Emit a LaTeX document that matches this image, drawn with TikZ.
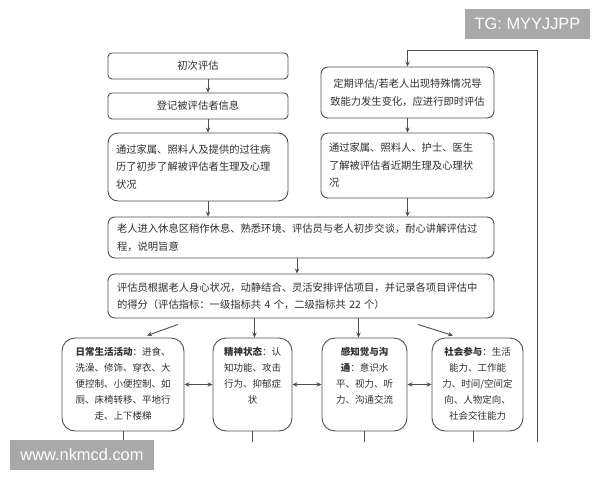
\documentclass[tikz,border=0pt]{standalone}
\usepackage{fontspec}
\setmainfont{Liberation Sans}
\newfontfamily\cjk{Noto Sans CJK SC}
\usetikzlibrary{arrows.meta}

\definecolor{linegray}{HTML}{4F4F4F}
\definecolor{textgray}{HTML}{2F2F2F}
\definecolor{markgray}{HTML}{A9A9A9}

\begin{document}
\begin{tikzpicture}[x=1pt,y=-1pt,
  box/.style={draw=linegray, line width=0.9pt, rounded corners=7pt, fill=white, text=textgray,
    font=\cjk\fontsize{10.3}{17.5}\selectfont, inner xsep=8pt, inner ysep=0pt},
  bbox/.style={box, rounded corners=13pt, font=\cjk\fontsize{9.5}{16}\selectfont, inner xsep=6pt, inner ysep=6.5pt},
  arr/.style={draw=linegray, line width=0.9pt, -{Stealth[length=5pt,width=4.5pt]}},
  both/.style={arr, {Stealth[length=5pt,width=4.5pt]}-{Stealth[length=5pt,width=4.5pt]}},
  line/.style={draw=linegray, line width=0.9pt},
  wmark/.style={fill=markgray, text=white, font=\fontsize{16.4}{18}\selectfont, inner sep=0pt}]
\useasboundingbox (0,0) rectangle (600,480);

% left column
\node[box, rounded corners=4pt, minimum width=180, minimum height=26] (b1) at (198,66) {初次评估};
\node[box, rounded corners=4pt, minimum width=180, minimum height=26] (b2) at (198,106) {登记被评估者信息};
\node[box, rounded corners=10pt, text width=164, minimum height=68, align=left] (b3) at (198,167)
  {通过家属、照料人及提供的过往病\\历了初步了解被评估者生理及心理\\状况};

% right column
\node[box, text width=160, inner xsep=6.5pt, minimum height=51, align=center] (r1) at (407.5,92.5)
  {定期评估/若老人出现特殊情况导\\致能力发生变化，应进行即时评估};
\node[box, text width=157, minimum height=65, align=left] (r2) at (407.5,165.5)
  {通过家属、照料人、护士、医生\\了解被评估者近期生理及心理状\\况};

% wide boxes
\node[box, text width=368, inner xsep=9pt, minimum height=41, align=left] (b4) at (301,237.5)
  {老人进入休息区稍作休息、熟悉环境、评估员与老人初步交谈，耐心讲解评估过\\程，说明旨意};
\node[box, text width=368, inner xsep=9pt, minimum height=44, align=left] (b5) at (301,296)
  {评估员根据老人身心状况，动静结合、灵活安排评估项目，并记录各项目评估中\\的得分（评估指标：一级指标共 4 个，二级指标共 22 个）};

% the four indicators
\node[bbox, minimum width=122] (adl) at (123,384.5)
  {\parbox[c][80pt][t]{110pt}{\centering\strut{\bfseries 日常生活活动}：进食、\\洗澡、修饰、穿衣、大\\便控制、小便控制、如\\厕、床椅转移、平地行\\走、上下楼梯}};
\node[bbox, minimum width=79] (mnt) at (252.5,384.5)
  {\parbox[c][80pt][t]{67pt}{\centering\strut{\bfseries 精神状态}：认\\知功能、攻击\\行为、抑郁症\\状}};
\node[bbox, minimum width=85] (cog) at (364.5,384.5)
  {\parbox[c][80pt][t]{73pt}{\centering\strut{\bfseries 感知觉与沟}\\{\bfseries 通}：意识水\\平、视力、听\\力、沟通交流}};
\node[bbox, minimum width=91] (soc) at (477.5,384.5)
  {\parbox[c][80pt][t]{79pt}{\centering\strut{\bfseries 社会参与}：生活\\能力、工作能\\力、时间/空间定\\向、人物定向、\\社会交往能力}};

\coordinate (fbk) at (537,442);
\coordinate (fbtop) at (537,50);

\draw[arr] ([xshift=10pt]b1.south) -- ([xshift=10pt]b2.north);
\draw[arr] ([xshift=10pt]b2.south) -- ([xshift=10pt]b3.north);
\draw[arr] ([xshift=10pt]b3.south) -- ([xshift=10pt]b3.south |- b4.north);
\draw[arr] (r1) -- (r2);
\draw[arr] (r2.south) -- (r2.south |- b4.north);
\draw[arr] ([xshift=-4pt]b4.south) -- ([xshift=-4pt]b5.north);

\draw[arr] ([xshift=-123pt,yshift=-6pt]b5.south) -- ([xshift=24pt,yshift=2pt]adl.north);
\draw[arr] ([xshift=2pt]b5.south -| mnt.north) -- ([xshift=2pt]mnt.north);
\draw[arr] ([xshift=-6pt]b5.south -| cog.north) -- ([xshift=-6pt]cog.north);
\draw[arr] ([xshift=117pt,yshift=-6pt]b5.south) -- ([xshift=-24.5pt,yshift=2pt]soc.north);

\draw[both] (adl) -- (mnt);
\draw[both] (mnt) -- (cog);
\draw[both] (cog) -- (soc);

% re-assessment loop
\draw[arr] (fbk) -- (fbtop) -| (r1.north);

\draw[line] (adl.south) -- (adl.south |- fbk);
\draw[line] (mnt.south) -- (mnt.south |- fbk);
\draw[line] (cog.south) -- (cog.south |- fbk);
\draw[line] ([xshift=-4pt]soc.south) -- ([xshift=-4pt]soc.south |- fbk);

% watermarks
\node[wmark, minimum width=125, minimum height=30] (tg) at (527.5,24) {TG: MYYJJPP};
\node[wmark, minimum width=144, minimum height=30] (site) at (82,455) {www.nkmcd.com};
\end{tikzpicture}
\end{document}
